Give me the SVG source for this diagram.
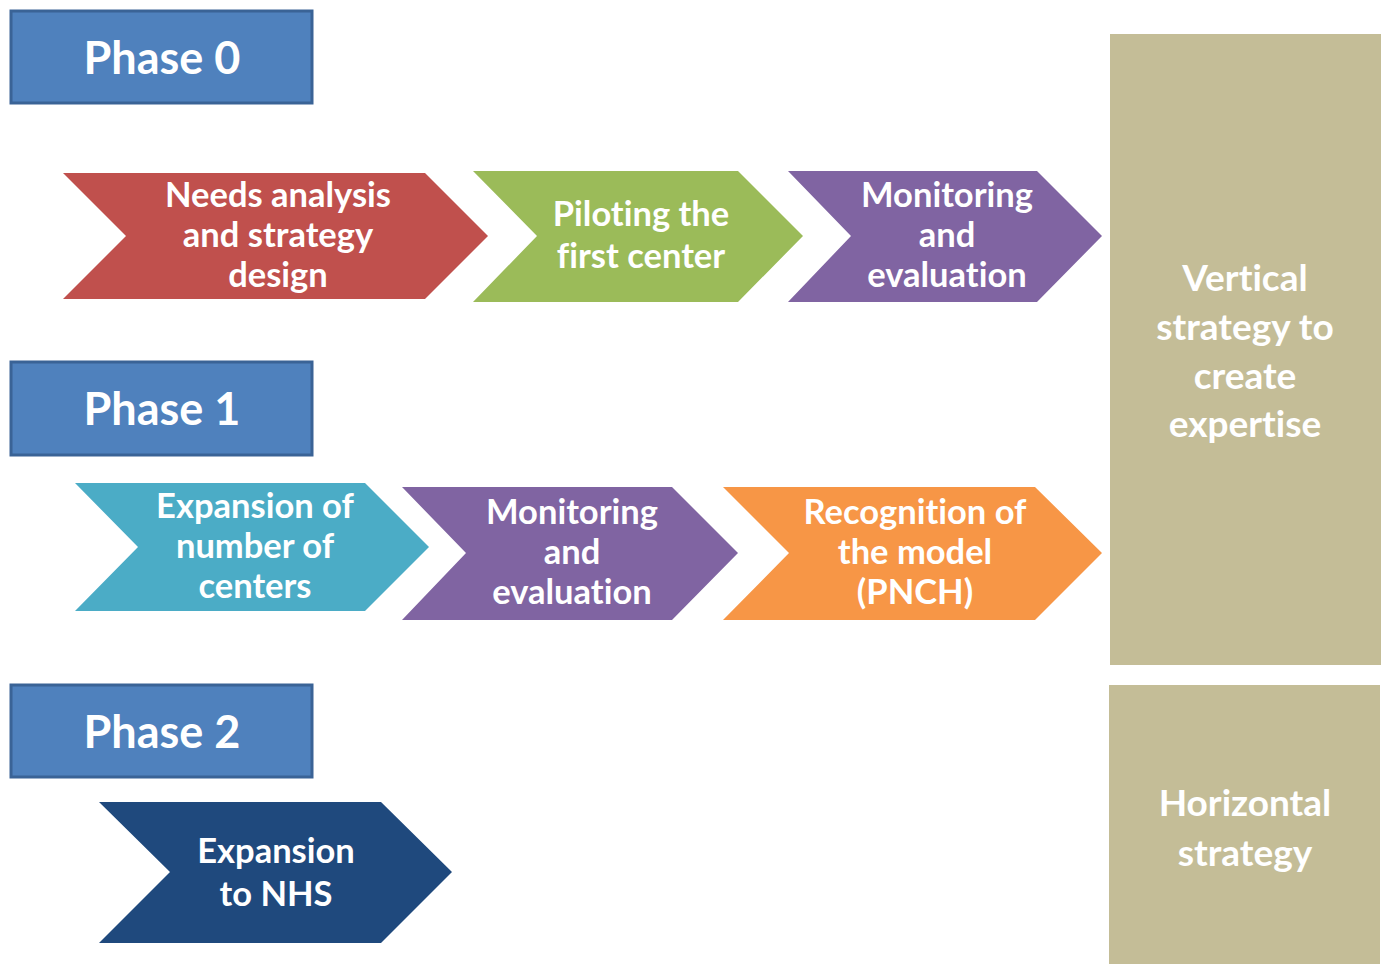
<svg xmlns="http://www.w3.org/2000/svg" width="1385" height="964" viewBox="0 0 1385 964">
<style>
.phase rect{fill:#4f81bd;stroke:#3a6396;stroke-width:3}
.t{font-family:Lato,"Open Sans","Liberation Sans",sans-serif;font-weight:bold;fill:#ffffff;text-anchor:middle;font-variant-ligatures:none}
.pt{font-size:45px}
.ct{font-size:34.5px}
.st{font-size:37px}
.red{fill:#c0504d}.green{fill:#9bbb59}.purple{fill:#8064a2}.cyan{fill:#4bacc6}.orange{fill:#f79646}.navy{fill:#1f497d}.tan{fill:#c4bd97}
</style>
<rect width="1385" height="964" fill="#ffffff"/>
<g id="phase0" class="phase"><rect x="11" y="11" width="301" height="92"/><text class="t pt" x="162" y="74">Phase 0</text></g>
<g id="phase1" class="phase"><rect x="11" y="362" width="301" height="93"/><text class="t pt" x="162" y="425">Phase 1</text></g>
<g id="phase2" class="phase"><rect x="11" y="685" width="301" height="92"/><text class="t pt" x="162" y="748">Phase 2</text></g>

<g id="needs"><polygon class="red" points="63,173 425,173 488,236 425,299 63,299 126,236"/>
<text class="t ct" x="278" y="207">Needs analysis</text><text class="t ct" x="278" y="247">and strategy</text><text class="t ct" x="278" y="287">design</text></g>
<g id="piloting"><polygon class="green" points="473,171 738,171 803,236 738,302 473,302 537,236"/>
<text class="t ct" x="641" y="226">Piloting the</text><text class="t ct" x="641" y="268">first center</text></g>
<g id="monitoring0"><polygon class="purple" points="788,171 1037,171 1102,236 1037,302 788,302 851,236"/>
<text class="t ct" x="947" y="207">Monitoring</text><text class="t ct" x="947" y="247">and</text><text class="t ct" x="947" y="287">evaluation</text></g>

<g id="expansion"><polygon class="cyan" points="75,483 365,483 429,547 365,611 75,611 138,547"/>
<text class="t ct" x="255" y="518">Expansion of</text><text class="t ct" x="255" y="558">number of</text><text class="t ct" x="255" y="598">centers</text></g>
<g id="monitoring1"><polygon class="purple" points="402,487 672,487 738,553 672,620 402,620 466,553"/>
<text class="t ct" x="572" y="524">Monitoring</text><text class="t ct" x="572" y="564">and</text><text class="t ct" x="572" y="604">evaluation</text></g>
<g id="recognition"><polygon class="orange" points="723,487 1035,487 1102,553 1035,620 723,620 789,553"/>
<text class="t ct" x="915" y="524">Recognition of</text><text class="t ct" x="915" y="564">the model</text><text class="t ct" x="915" y="604">(PNCH)</text></g>

<g id="nhs"><polygon class="navy" points="99,802 381,802 452,872 381,943 99,943 170,872"/>
<text class="t ct" x="276" y="863">Expansion</text><text class="t ct" x="276" y="906">to NHS</text></g>

<g id="vertical"><rect class="tan" x="1110" y="34" width="271" height="631"/>
<text class="t st" x="1245" y="291">Vertical</text><text class="t st" x="1245" y="340">strategy to</text><text class="t st" x="1245" y="389">create</text><text class="t st" x="1245" y="437">expertise</text></g>
<g id="horizontal"><rect class="tan" x="1109" y="685" width="271" height="279"/>
<text class="t st" x="1245" y="816">Horizontal</text><text class="t st" x="1245" y="866">strategy</text></g>
<g id="connectors"></g>
</svg>
